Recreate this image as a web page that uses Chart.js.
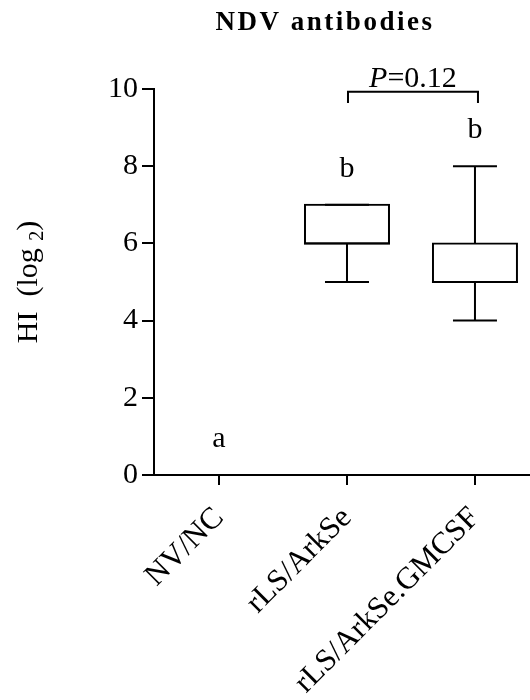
<!DOCTYPE html>
<html><head><meta charset="utf-8">
<script src="https://cdn.jsdelivr.net/npm/chart.js@4"></script>
<style>html,body{margin:0;padding:0;background:#fff;overflow:hidden}</style>
</head><body>
<canvas id="c" width="530" height="700"></canvas>
<script>
// ---- data ----
const categories = ['NV/NC', 'rLS/ArkSe', 'rLS/ArkSe.GMCSF'];
const mins    = [0, 5, 4];
const q1s     = [0, 6, 5];
const medians = [0, 6, 5];
const q3s     = [0, 7, 6];
const maxs    = [0, 7, 8];
const groupLetters = ['a', 'b', 'b'];
const yTickValues = [0, 2, 4, 6, 8, 10];
const chartTitle = 'NDV antibodies';
const yTitleMain = 'HI  (log ';
const yTitleSub = '2';
const pCompare = { from: 1, to: 2, prefix: 'P', text: '=0.12' };

const FONT = "'Liberation Serif', 'Times New Roman', serif";
Chart.defaults.font.family = FONT;
Chart.defaults.color = '#000';

const idx = categories.map((_, i) => i);

const boxData = idx.map(i => ({ x: i, y: [q1s[i], q3s[i]] }));
const medianData = idx.map(i => ({ x: i, y: medians[i] }));
const capData = idx.flatMap(i => [{ x: i, y: mins[i] }, { x: i, y: maxs[i] }]);
const whiskerData = idx.flatMap(i => [
  { x: i, y: mins[i] }, { x: i, y: q1s[i] }, { x: i, y: null },
  { x: i, y: q3s[i] }, { x: i, y: maxs[i] }, { x: i, y: null }
]);

const textPlugin = {
  id: 'texts',
  afterDraw(chart) {
    const ctx = chart.ctx;
    const xs = chart.scales.x, ys = chart.scales.y;
    ctx.save();
    ctx.fillStyle = '#000';
    ctx.strokeStyle = '#000';
    // title
    ctx.font = 'bold 27px ' + FONT;
    ctx.textAlign = 'center';
    ctx.textBaseline = 'alphabetic';
    try { ctx.letterSpacing = '2.5px'; } catch (e) {}
    ctx.fillText(chartTitle, 325, 30);
    try { ctx.letterSpacing = '0px'; } catch (e) {}

    // y title with subscript
    ctx.save();
    ctx.translate(37, 282);
    ctx.rotate(-Math.PI / 2);
    ctx.textAlign = 'left';
    ctx.font = '30px ' + FONT;
    const w1 = ctx.measureText(yTitleMain).width;
    ctx.font = '20px ' + FONT;
    const w2 = ctx.measureText(yTitleSub).width;
    ctx.font = '30px ' + FONT;
    const w3 = ctx.measureText(')').width;
    let x0 = -(w1 + w2 + w3) / 2;
    ctx.fillText(yTitleMain, x0, 0);
    ctx.font = '20px ' + FONT;
    ctx.fillText(yTitleSub, x0 + w1, 6);
    ctx.font = '30px ' + FONT;
    ctx.fillText(')', x0 + w1 + w2, 0);
    ctx.restore();

    // group letters
    ctx.font = '30px ' + FONT;
    ctx.textAlign = 'center';
    idx.forEach(i => {
      ctx.fillText(groupLetters[i], xs.getPixelForValue(i), ys.getPixelForValue(maxs[i] + 0.72));
    });

    // bracket
    const xa = xs.getPixelForValue(pCompare.from) + 1;
    const xb = xs.getPixelForValue(pCompare.to) + 3;
    const yb = ys.getPixelForValue(9.93);
    const yl = ys.getPixelForValue(9.64);
    ctx.lineWidth = 2;
    ctx.beginPath();
    ctx.moveTo(xa, yl); ctx.lineTo(xa, yb); ctx.lineTo(xb, yb); ctx.lineTo(xb, yl);
    ctx.stroke();
    ctx.font = 'italic 30px ' + FONT;
    const wp = ctx.measureText(pCompare.prefix).width;
    ctx.font = '30px ' + FONT;
    const wt = ctx.measureText(pCompare.text).width;
    const cx = (xa + xb) / 2;
    ctx.textAlign = 'left';
    ctx.font = 'italic 30px ' + FONT;
    ctx.fillText(pCompare.prefix, cx - (wp + wt) / 2, yb - 5);
    ctx.font = '30px ' + FONT;
    ctx.fillText(pCompare.text, cx - (wp + wt) / 2 + wp, yb - 5);
    ctx.restore();
  }
};

new Chart(document.getElementById('c'), {
  type: 'bar',
  data: {
    datasets: [
      { type: 'line', data: whiskerData, borderColor: '#000', borderWidth: 2, pointRadius: 0,
        spanGaps: false, showLine: true, clip: false, order: 2 },
      { type: 'bar', data: boxData, backgroundColor: '#fff', borderColor: '#000', borderWidth: 2,
        borderSkipped: false, barThickness: 84, inflateAmount: 1, clip: false, order: 1 },
      { type: 'line', data: medianData, showLine: false, pointStyle: 'line', pointRadius: 43,
        pointBorderWidth: 2, pointBorderColor: '#000', clip: false, order: 0 },
      { type: 'line', data: capData, showLine: false, pointStyle: 'line', pointRadius: 22,
        pointBorderWidth: 2, pointBorderColor: '#000', clip: false, order: 0 }
    ]
  },
  options: {
    responsive: false,
    animation: false,
    events: [],
    layout: { autoPadding: false, padding: { top: 89, left: 0, right: 0, bottom: 0 } },
    plugins: { legend: { display: false }, tooltip: { enabled: false }, title: { display: false } },
    scales: {
      x: {
        type: 'linear',
        min: -0.508, max: 2.43,
        offset: false,
        afterBuildTicks: s => { s.ticks = idx.map(i => ({ value: i })); },
        afterFit: s => { s.height = 225; s.paddingLeft = 0; s.paddingRight = 0; },
        grid: { offset: false, drawOnChartArea: false, tickLength: 10, color: '#000', lineWidth: 2 },
        border: { display: true, color: '#000', width: 2 },
        ticks: {
          autoSkip: false, minRotation: 45, maxRotation: 45, padding: 15,
          font: { size: 31, family: FONT }, color: '#000',
          callback: v => categories[v] ?? ''
        }
      },
      y: {
        min: 0, max: 10,
        afterBuildTicks: s => { s.ticks = yTickValues.map(v => ({ value: v })); },
        afterFit: s => { s.width = 154; s.paddingTop = 0; s.paddingBottom = 0; },
        grid: { drawOnChartArea: false, tickLength: 12, color: '#000', lineWidth: 2 },
        border: { display: true, color: '#000', width: 2 },
        ticks: { padding: 4, font: { size: 30, family: FONT }, color: '#000' }
      }
    }
  },
  plugins: [textPlugin]
});
</script>
</body></html>
